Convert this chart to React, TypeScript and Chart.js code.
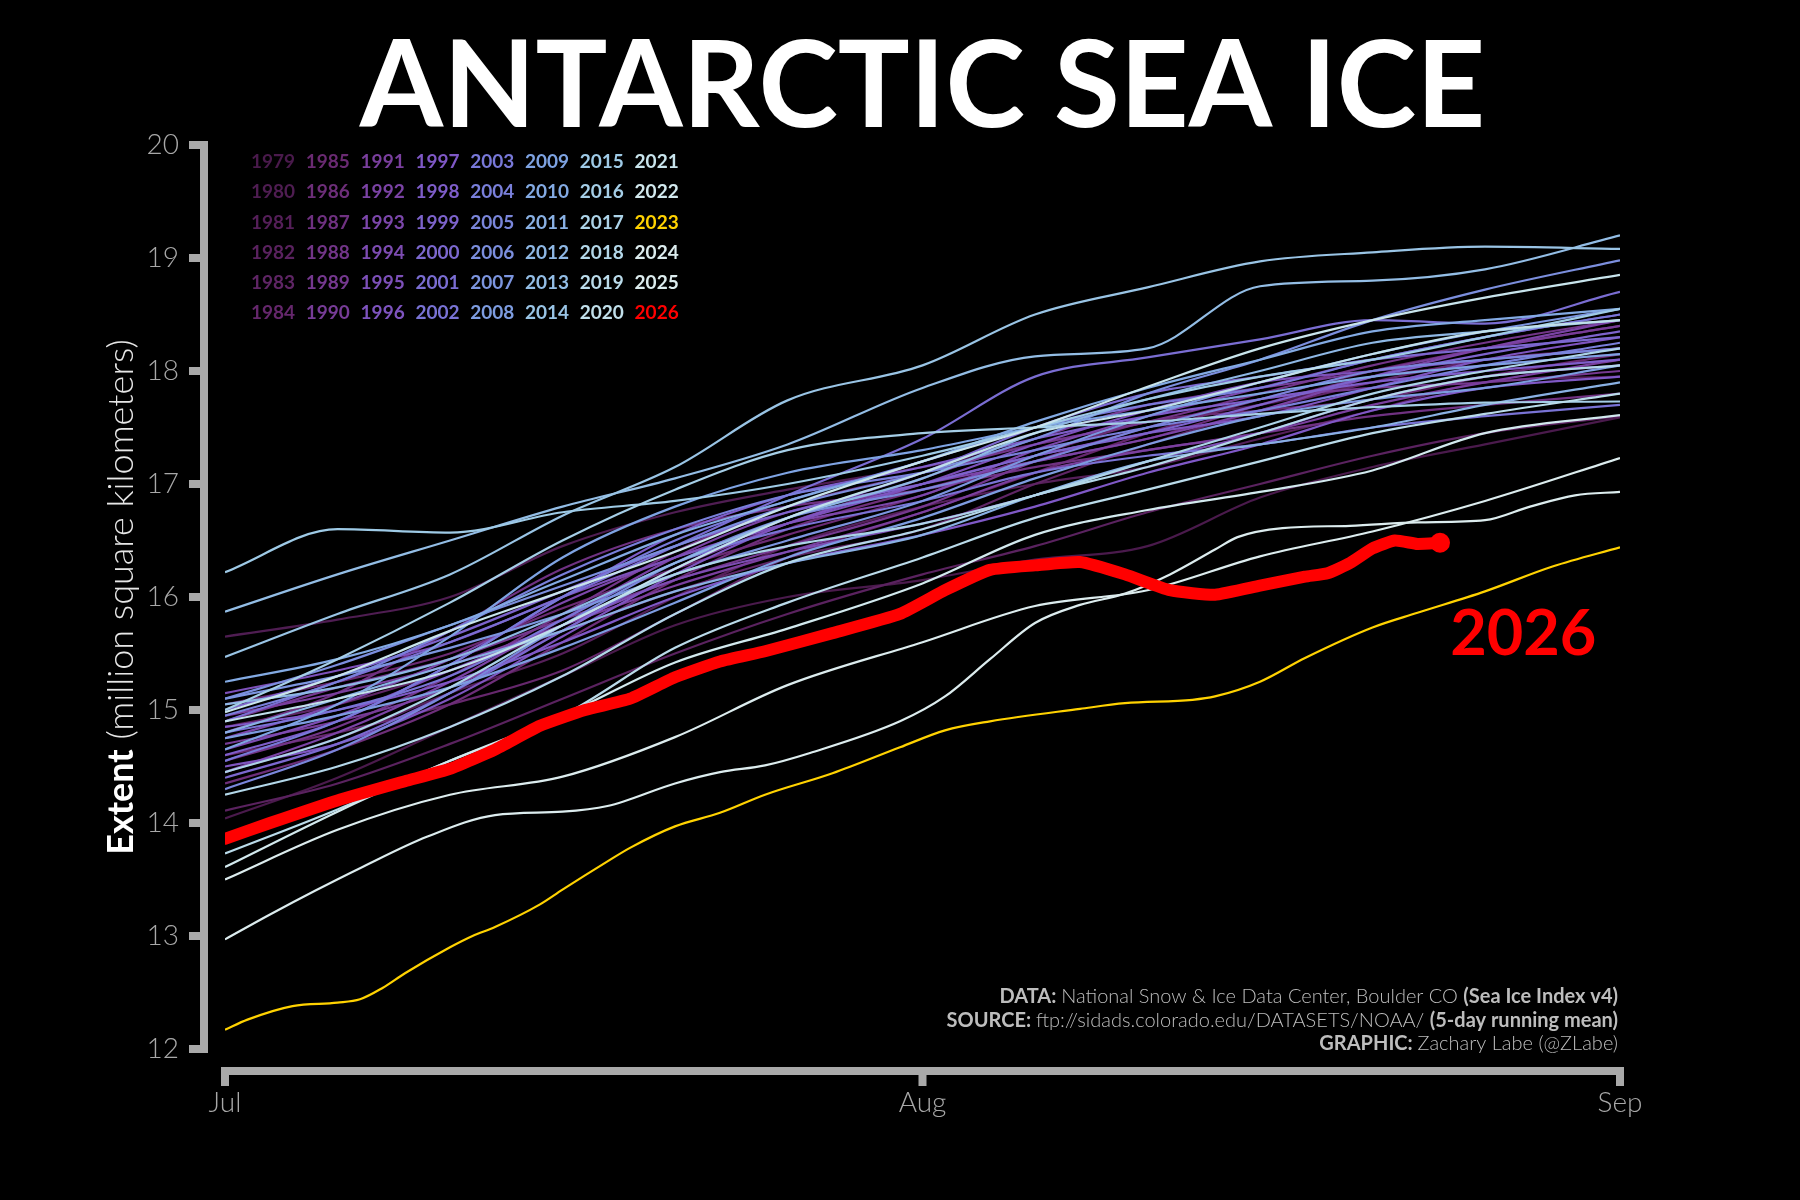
import { useEffect, useRef } from "react"
import { Chart, registerables } from "chart.js"

Chart.register(...registerables)

// days since Jul 1 for the sampled points (Aug 1 = 31, Sep 1 = 62)
const DAYS = [0, 5, 10, 15, 20, 25, 31, 36, 41, 46, 51, 56, 62]
const MONTH_TICKS = [0, 31, 62]
const MONTH_LABELS = ["Jul", "Aug", "Sep"]

// extent in million km²
const E1979 = [14.04, 14.4, 14.85, 15.3, 15.75, 16.0, 16.15, 16.33, 16.45, 16.88, 17.15, 17.35, 17.59]
const E1980 = [15.65, 15.8, 16.0, 16.45, 16.75, 16.95, 17.15, 17.35, 17.55, 17.7, 17.9, 18.0, 18.1]
const E1981 = [14.45, 14.75, 15.15, 15.5, 16.0, 16.45, 16.8, 17.0, 17.15, 17.4, 17.65, 17.9, 17.95]
const E1982 = [14.11, 14.35, 14.7, 15.1, 15.5, 15.85, 16.2, 16.45, 16.75, 17.0, 17.25, 17.45, 17.6]
const E1983 = [14.85, 15.05, 15.35, 15.7, 16.05, 16.35, 16.6, 17.0, 17.35, 17.65, 17.9, 18.1, 18.2]
const E1984 = [14.6, 14.8, 15.05, 15.35, 15.85, 16.35, 16.75, 17.1, 17.45, 17.75, 18.0, 18.2, 18.4]
const E1985 = [15.05, 15.25, 15.5, 15.9, 16.25, 16.55, 16.9, 17.25, 17.55, 17.65, 17.75, 17.95, 18.15]
const E1986 = [14.35, 14.65, 15.05, 15.6, 16.15, 16.6, 16.95, 17.2, 17.4, 17.7, 17.95, 18.05, 18.15]
const E1987 = [14.8, 15.15, 15.7, 16.25, 16.6, 16.8, 16.95, 17.15, 17.3, 17.45, 17.6, 17.7, 17.8]
const E1988 = [14.55, 14.85, 15.3, 15.85, 16.4, 16.8, 17.1, 17.35, 17.55, 17.8, 18.05, 18.25, 18.45]
const E1989 = [14.9, 15.2, 15.45, 15.8, 16.15, 16.45, 16.8, 17.2, 17.5, 17.75, 17.85, 17.9, 18.0]
const E1990 = [14.7, 14.9, 15.2, 15.7, 16.25, 16.65, 17.05, 17.4, 17.7, 17.85, 18.0, 18.2, 18.4]
const E1991 = [14.95, 15.15, 15.4, 15.75, 16.1, 16.4, 16.75, 17.1, 17.3, 17.45, 17.7, 17.9, 18.1]
const E1992 = [14.45, 14.8, 15.25, 15.8, 16.35, 16.75, 17.0, 17.2, 17.4, 17.65, 17.95, 18.2, 18.45]
const E1993 = [14.75, 15.05, 15.45, 15.95, 16.35, 16.65, 16.9, 17.3, 17.6, 17.85, 18.1, 18.3, 18.5]
const E1994 = [14.65, 14.95, 15.35, 15.75, 16.15, 16.4, 16.65, 16.9, 17.2, 17.45, 17.75, 17.95, 18.05]
const E1995 = [15.15, 15.35, 15.6, 16.0, 16.35, 16.65, 17.0, 17.35, 17.65, 17.9, 18.0, 18.1, 18.2]
const E1996 = [14.5, 14.7, 15.1, 15.65, 16.2, 16.65, 17.0, 17.25, 17.45, 17.6, 17.85, 18.1, 18.3]
const E1997 = [14.85, 15.0, 15.25, 15.6, 16.0, 16.3, 16.55, 16.8, 17.1, 17.35, 17.65, 17.85, 17.95]
const E1998 = [14.6, 14.9, 15.4, 16.0, 16.55, 16.9, 17.15, 17.4, 17.6, 17.75, 17.9, 18.0, 18.1]
const E1999 = [15.0, 15.3, 15.65, 16.05, 16.45, 16.75, 17.0, 17.25, 17.45, 17.7, 17.95, 18.15, 18.35]
const E2000 = [14.4, 14.7, 15.15, 15.7, 16.25, 16.7, 17.1, 17.5, 17.8, 17.95, 18.1, 18.2, 18.3]
const E2001 = [14.9, 15.25, 15.6, 16.0, 16.45, 16.9, 17.4, 17.95, 18.12, 18.28, 18.45, 18.42, 18.7]
const E2002 = [14.8, 15.0, 15.3, 15.8, 16.3, 16.6, 16.85, 17.1, 17.25, 17.35, 17.5, 17.6, 17.7]
const E2003 = [14.55, 14.9, 15.4, 16.0, 16.5, 16.85, 17.2, 17.5, 17.7, 17.85, 18.1, 18.3, 18.5]
const E2004 = [14.95, 15.25, 15.7, 16.2, 16.6, 16.9, 17.1, 17.3, 17.5, 17.65, 17.85, 18.05, 18.25]
const E2005 = [14.3, 14.65, 15.15, 15.75, 16.3, 16.7, 16.95, 17.2, 17.5, 17.75, 18.0, 18.1, 18.2]
const E2006 = [15.1, 15.4, 15.75, 16.1, 16.45, 16.8, 17.1, 17.4, 17.8, 18.1, 18.45, 18.72, 18.98]
const E2007 = [15.1, 15.3, 15.55, 15.85, 16.2, 16.5, 16.85, 17.25, 17.6, 17.9, 18.15, 18.35, 18.55]
const E2008 = [14.75, 14.95, 15.2, 15.55, 15.95, 16.35, 16.7, 17.05, 17.35, 17.6, 17.75, 17.85, 18.05]
const E2009 = [14.65, 15.05, 15.65, 16.35, 16.8, 17.1, 17.3, 17.5, 17.65, 17.8, 17.95, 18.05, 18.15]
const E2010 = [15.25, 15.45, 15.75, 16.15, 16.55, 16.85, 17.2, 17.55, 17.85, 18.1, 18.35, 18.45, 18.55]
const E2011 = [14.8, 15.1, 15.4, 15.7, 16.05, 16.3, 16.55, 16.9, 17.2, 17.35, 17.5, 17.7, 17.9]
const E2012 = [15.05, 15.2, 15.45, 15.85, 16.3, 16.7, 17.05, 17.45, 17.75, 18.0, 18.25, 18.35, 18.45]
const E2013 = [15.87, 16.2, 16.5, 16.8, 17.05, 17.35, 17.85, 18.13, 18.2, 18.75, 18.8, 18.9, 19.2]
const E2014 = [15.47, 15.85, 16.2, 16.72, 17.15, 17.74, 18.05, 18.5, 18.74, 18.97, 19.05, 19.1, 19.08]
const E2015 = [16.22, 16.6, 16.57, 16.75, 16.85, 17.0, 17.25, 17.5, 17.75, 17.95, 18.1, 18.3, 18.55]
const E2016 = [15.0, 15.45, 15.95, 16.5, 16.95, 17.3, 17.45, 17.5, 17.55, 17.62, 17.68, 17.72, 17.73]
const E2017 = [14.45, 14.75, 15.2, 15.75, 16.2, 16.45, 16.65, 16.9, 17.2, 17.5, 17.8, 18.0, 18.2]
const E2018 = [14.25, 14.5, 14.85, 15.3, 15.85, 16.3, 16.6, 16.9, 17.15, 17.45, 17.75, 17.95, 18.05]
const E2019 = [13.73, 14.12, 14.55, 14.95, 15.55, 15.95, 16.35, 16.7, 16.95, 17.2, 17.45, 17.62, 17.8]
const E2020 = [14.9, 15.1, 15.35, 15.75, 16.25, 16.7, 17.1, 17.45, 17.65, 17.9, 18.15, 18.35, 18.45]
const E2021 = [14.98, 15.3, 15.7, 16.05, 16.4, 16.8, 17.2, 17.5, 17.86, 18.2, 18.45, 18.65, 18.85]
const E2022 = [13.61, 14.1, 14.55, 14.95, 15.42, 15.72, 16.12, 16.55, 16.77, 16.93, 17.12, 17.45, 17.61]
const E2025 = [13.5, 13.94, 14.25, 14.41, 14.76, 15.22, 15.6, 15.92, 16.06, 16.36, 16.58, 16.85, 17.23]

// the three lowest years are read more densely
const DAYS_2023 = [0, 1, 3, 5, 6, 7, 8, 10, 11, 12, 14, 15, 17, 18, 20, 22, 24, 27, 30, 32, 34, 38, 40, 43, 44, 46, 48, 51, 53, 56, 59, 62]
const E2023 = [12.17, 12.26, 12.38, 12.41, 12.44, 12.54, 12.67, 12.9, 13.0, 13.08, 13.28, 13.41, 13.66, 13.78, 13.97, 14.09, 14.25, 14.44, 14.67, 14.82, 14.9, 15.01, 15.06, 15.09, 15.12, 15.25, 15.46, 15.73, 15.86, 16.05, 16.27, 16.44]
const DAYS_2024 = [0, 2, 4, 6, 9, 12, 15, 17, 20, 22, 24, 26, 30, 32, 34, 36, 38, 40, 42, 44, 45, 47, 50, 53, 56, 58, 60, 62]
const E2024 = [12.97, 13.19, 13.4, 13.6, 13.88, 14.07, 14.1, 14.15, 14.35, 14.45, 14.51, 14.62, 14.9, 15.12, 15.45, 15.77, 15.93, 16.03, 16.2, 16.42, 16.53, 16.61, 16.63, 16.66, 16.68, 16.8, 16.9, 16.93]
// the current year stops on Aug 24
const DAYS_2026 = [0, 2, 5, 8, 10, 12, 14, 16, 18, 20, 22, 24, 27, 30, 32, 34, 36, 38, 40, 42, 44, 46, 48, 49, 50, 51, 52, 53, 54]
const E2026 = [13.86, 14.0, 14.2, 14.37, 14.48, 14.65, 14.86, 15.0, 15.1, 15.29, 15.43, 15.52, 15.68, 15.85, 16.06, 16.24, 16.28, 16.31, 16.2, 16.06, 16.02, 16.1, 16.18, 16.21, 16.3, 16.43, 16.5, 16.47, 16.48]

const YEARS = [
  1979, 1980, 1981, 1982, 1983, 1984, 1985, 1986, 1987, 1988, 1989, 1990, 1991, 1992, 1993, 1994,
  1995, 1996, 1997, 1998, 1999, 2000, 2001, 2002, 2003, 2004, 2005, 2006, 2007, 2008, 2009, 2010,
  2011, 2012, 2013, 2014, 2015, 2016, 2017, 2018, 2019, 2020, 2021, 2022, 2023, 2024, 2025,
]
const YEAR_SERIES = [
  E1979, E1980, E1981, E1982, E1983, E1984, E1985, E1986, E1987, E1988, E1989, E1990, E1991, E1992, E1993, E1994,
  E1995, E1996, E1997, E1998, E1999, E2000, E2001, E2002, E2003, E2004, E2005, E2006, E2007, E2008, E2009, E2010,
  E2011, E2012, E2013, E2014, E2015, E2016, E2017, E2018, E2019, E2020, E2021, E2022, E2023, E2024, E2025,
]
const LEGEND_YEARS = [...YEARS, 2026]

const TITLE = "ANTARCTIC SEA ICE"
const Y_TITLE_BOLD = "Extent"
const Y_TITLE_REST = " (million square kilometers)"
const FOOTER: [string, boolean][][] = [
  [["DATA: ", true], ["National Snow & Ice Data Center, Boulder CO ", false], ["(Sea Ice Index v4)", true]],
  [["SOURCE: ", true], ["ftp://sidads.colorado.edu/DATASETS/NOAA/ ", false], ["(5-day running mean)", true]],
  [["GRAPHIC: ", true], ["Zachary Labe (@ZLabe)", false]],
]

const FONT = "Lato"
const AXIS_GRAY = "#a9a9a9"
const TEXT_GRAY = "#a8a8a8"

const COLOR_STOPS: [number, number[]][] = [
  [1979, [74, 26, 76]],
  [1985, [106, 42, 114]],
  [1991, [122, 63, 158]],
  [1997, [127, 88, 198]],
  [2003, [120, 120, 216]],
  [2009, [126, 163, 226]],
  [2015, [158, 202, 230]],
  [2021, [200, 228, 236]],
  [2022, [210, 233, 238]],
]

function yearColor(year: number) {
  if (year === 2023) return "#ffd200"
  if (year === 2026) return "#ff0000"
  if (year > 2022) return "#dcecee"
  for (let i = 0; i < COLOR_STOPS.length - 1; i++) {
    const [y0, c0] = COLOR_STOPS[i]
    const [y1, c1] = COLOR_STOPS[i + 1]
    if (year >= y0 && year <= y1) {
      const t = (year - y0) / (y1 - y0)
      const c = c0.map((v, k) => Math.round(v + (c1[k] - v) * t))
      return `rgb(${c[0]}, ${c[1]}, ${c[2]})`
    }
  }
  return "#dcecee"
}

function daysFor(year: number) {
  if (year === 2023) return DAYS_2023
  if (year === 2024) return DAYS_2024
  return DAYS
}

const decorPlugin = {
  id: "decor",
  beforeDraw(chart: any) {
    const { ctx, width, height } = chart
    ctx.save()
    ctx.fillStyle = "#000"
    ctx.fillRect(0, 0, width, height)
    ctx.restore()
  },
  afterDraw(chart: any) {
    const { ctx, chartArea } = chart
    const xs = chart.scales.x
    const ys = chart.scales.y
    ctx.save()

    // detached axis spines with outward ticks
    ctx.fillStyle = AXIS_GRAY
    const spineX = chartArea.left - 21
    const yTop = ys.getPixelForValue(ys.max)
    const yBot = ys.getPixelForValue(ys.min)
    ctx.fillRect(spineX - 4, yTop - 4, 8, yBot - yTop + 8)
    ys.ticks.forEach((t: any) => {
      const py = ys.getPixelForValue(t.value)
      ctx.fillRect(spineX - 15, py - 4, 11, 8)
    })
    const spineY = chartArea.bottom + 22
    const xL = xs.getPixelForValue(xs.min)
    const xR = xs.getPixelForValue(xs.max)
    ctx.fillRect(xL - 4, spineY - 4, xR - xL + 8, 8)
    MONTH_TICKS.forEach((d) => {
      const px = xs.getPixelForValue(d)
      ctx.fillRect(px - 4, spineY + 4, 8, 11)
    })

    // title
    ctx.fillStyle = "#ffffff"
    ctx.font = `bold 120px ${FONT}`
    ctx.textAlign = "center"
    ctx.textBaseline = "alphabetic"
    ctx.fillText(TITLE, (chartArea.left + chartArea.right) / 2, chartArea.top - 18)

    // y axis title, bold + light
    ctx.save()
    ctx.translate(133, (chartArea.top + chartArea.bottom) / 2)
    ctx.rotate(-Math.PI / 2)
    ctx.textAlign = "left"
    ctx.font = `bold 36px ${FONT}`
    const wBold = ctx.measureText(Y_TITLE_BOLD).width
    ctx.font = `300 36px ${FONT}`
    const wRest = ctx.measureText(Y_TITLE_REST).width
    const start = -(wBold + wRest) / 2
    ctx.font = `bold 36px ${FONT}`
    ctx.fillStyle = "#ffffff"
    ctx.fillText(Y_TITLE_BOLD, start, 0)
    ctx.font = `300 36px ${FONT}`
    ctx.fillStyle = "#e6e6e6"
    ctx.fillText(Y_TITLE_REST, start + wBold, 0)
    ctx.restore()

    // year legend, 6 rows per column
    ctx.font = `bold 19px ${FONT}`
    ctx.textAlign = "left"
    ctx.textBaseline = "middle"
    LEGEND_YEARS.forEach((year, i) => {
      const col = Math.floor(i / 6)
      const row = i % 6
      ctx.fillStyle = yearColor(year)
      ctx.fillText(String(year), chartArea.left + 26 + col * 54.8, chartArea.top + 17 + row * 30.2)
    })

    // credits, right aligned
    const right = chartArea.right - 2
    FOOTER.forEach((line, li) => {
      const base = chartArea.bottom - 46 + li * 23.5
      const widths = line.map(([text, bold]) => {
        ctx.font = `${bold ? "bold" : "300"} 20px ${FONT}`
        return ctx.measureText(text).width
      })
      let x = right - widths.reduce((a, b) => a + b, 0)
      ctx.textBaseline = "alphabetic"
      ctx.fillStyle = "#bdbdbd"
      line.forEach(([text, bold], k) => {
        ctx.font = `${bold ? "bold" : "300"} 20px ${FONT}`
        ctx.fillText(text, x, base)
        x += widths[k]
      })
    })

    // label for the current year
    ctx.fillStyle = "#ff0000"
    ctx.font = `bold 63px ${FONT}`
    ctx.textAlign = "center"
    ctx.textBaseline = "alphabetic"
    ctx.fillText("2026", xs.getPixelForValue(57.7), ys.getPixelForValue(15.49))

    ctx.restore()
  },
}

export default function App() {
  const chartRef = useRef<HTMLCanvasElement>(null)
  const chartInstance = useRef<Chart | null>(null)

  useEffect(() => {
    if (!chartRef.current) return
    if (chartInstance.current) {
      chartInstance.current.destroy()
    }

    const datasets: any[] = YEARS.map((year, i) => {
      const days = daysFor(year)
      return {
        label: String(year),
        data: days.map((d, k) => ({ x: d, y: YEAR_SERIES[i][k] })),
        borderColor: yearColor(year),
        borderWidth: 2.2,
        pointRadius: 0,
        cubicInterpolationMode: "monotone",
        order: 3000 - year,
      }
    })

    const last = DAYS_2026.length - 1
    datasets.push({
      label: "2026",
      data: DAYS_2026.map((d, k) => ({ x: d, y: E2026[k] })),
      borderColor: "#ff0000",
      borderWidth: 12,
      borderCapStyle: "round",
      borderJoinStyle: "round",
      tension: 0.15,
      pointRadius: (c: any) => (c.dataIndex === last ? 10 : 0),
      pointBackgroundColor: "#ff0000",
      pointBorderWidth: 0,
      order: 0,
    })

    const ctx = chartRef.current.getContext("2d")
    if (ctx) {
      chartInstance.current = new Chart(ctx, {
        type: "line",
        data: { datasets },
        plugins: [decorPlugin],
        options: {
          responsive: false,
          animation: false,
          devicePixelRatio: 1,
          events: [],
          layout: { padding: { top: 145, right: 180, bottom: 0, left: 0 } },
          plugins: {
            legend: { display: false },
            tooltip: { enabled: false },
            title: { display: false },
          },
          scales: {
            x: {
              type: "linear",
              min: 0,
              max: 62,
              grid: { display: false, drawTicks: false },
              border: { display: false },
              afterBuildTicks: (scale: any) => {
                scale.ticks = MONTH_TICKS.map((value) => ({ value }))
              },
              afterFit: (scale: any) => {
                scale.height = 151
              },
              ticks: {
                autoSkip: false,
                maxRotation: 0,
                minRotation: 0,
                padding: 37,
                color: TEXT_GRAY,
                font: { family: FONT, size: 28, weight: "300" },
                callback: (value: any) => MONTH_LABELS[MONTH_TICKS.indexOf(Number(value))] ?? "",
              },
            },
            y: {
              min: 12,
              max: 20,
              grid: { display: false, drawTicks: false },
              border: { display: false },
              afterFit: (scale: any) => {
                scale.width = 225
              },
              ticks: {
                stepSize: 1,
                padding: 46,
                color: TEXT_GRAY,
                font: { family: FONT, size: 28, weight: "300" },
              },
            },
          },
        },
      })
    }

    return () => {
      if (chartInstance.current) {
        chartInstance.current.destroy()
        chartInstance.current = null
      }
    }
  }, [])

  return (
    <div style={{ position: "absolute", left: 0, top: 0, width: 1800, height: 1200, background: "#000" }}>
      <canvas ref={chartRef} width={1800} height={1200} style={{ display: "block", width: 1800, height: 1200 }} />
    </div>
  )
}
